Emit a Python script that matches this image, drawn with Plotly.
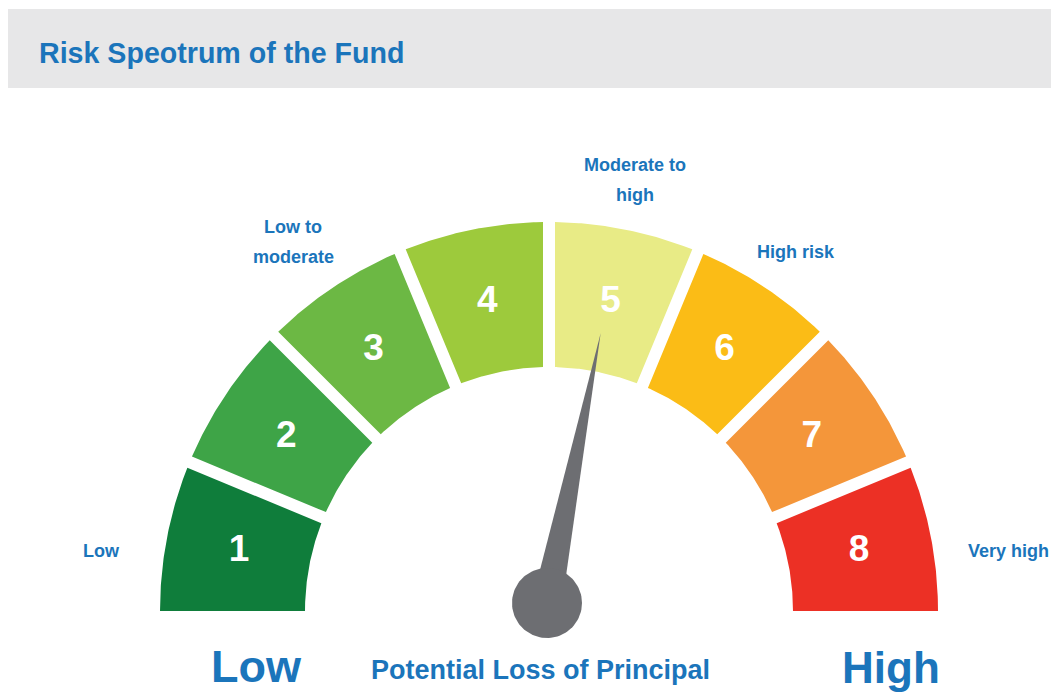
import numpy as np
import plotly.graph_objects as go

# ---------------- data ----------------
levels = [1, 2, 3, 4, 5, 6, 7, 8]
segment_colors = ["#0f7d3b", "#3ea447", "#6cb844", "#9dca3c",
                  "#e8eb86", "#fbbc16", "#f4963a", "#ec3025"]
risk_levels_named = [1, 3, 5, 6, 8]
risk_names = [["Low"], ["Low to", "moderate"], ["Moderate to", "high"],
              ["High risk"], ["Very high"]]
needle_value = 4.5          # position on the 0..8 scale (middle of level 5)
title_text = "Risk Speotrum of the Fund"
bottom_left = "Low"
bottom_mid = "Potential Loss of Principal"
bottom_right = "High"

# ---------------- geometry (pixel space of the screenshot) ----------------
W, H = 1059, 695
OFF = 8                      # default body margin of the html page
CX, CY = 549, 611
R_OUT, R_IN = 389, 244
GAP = 6.0
N = len(levels)
STEP = 180.0 / N
BLUE = "#1b75bb"
FONT = "Liberation Sans, Arial, sans-serif"


def pt(r, ang_deg, cx=CX, cy=CY):
    a = np.radians(ang_deg)
    return cx + r * np.cos(a), cy - r * np.sin(a)


fig = go.Figure()

# segments
for i, (lvl, col) in enumerate(zip(levels, segment_colors)):
    a_start = 180 - i * STEP
    a_end = 180 - (i + 1) * STEP
    do_o = np.degrees(np.arcsin(GAP / R_OUT))
    do_i = np.degrees(np.arcsin(GAP / R_IN))
    so = a_start - (do_o if i > 0 else 0)
    eo = a_end + (do_o if i < N - 1 else 0)
    si = a_start - (do_i if i > 0 else 0)
    ei = a_end + (do_i if i < N - 1 else 0)
    ang_o = np.linspace(so, eo, 60)
    ang_i = np.linspace(ei, si, 60)
    xo, yo = pt(R_OUT, ang_o)
    xi, yi = pt(R_IN, ang_i)
    xs = np.concatenate([xo, xi, xo[:1]])
    ys = np.concatenate([yo, yi, yo[:1]])
    fig.add_trace(go.Scatter(x=xs, y=ys, mode="lines", fill="toself",
                             fillcolor=col, line=dict(width=0, color=col),
                             hoverinfo="skip", showlegend=False))

# numbers inside segments
mid_angles = [180 - (i + 0.5) * STEP for i in range(N)]
nx, ny = pt(316, np.array(mid_angles))
fig.add_trace(go.Scatter(x=nx, y=ny + 2, mode="text", text=[str(l) for l in levels],
                         textfont=dict(family=FONT, size=37, color="white", weight="bold"),
                         hoverinfo="skip", showlegend=False))

# needle
PX, PY = 547, 603
needle_ang = 180 - needle_value * STEP
tip = pt(275, needle_ang, PX, PY)
b1 = pt(15, needle_ang + 90, PX, PY)
b2 = pt(15, needle_ang - 90, PX, PY)
fig.add_trace(go.Scatter(x=[b1[0], tip[0], b2[0], b1[0]], y=[b1[1], tip[1], b2[1], b1[1]],
                         mode="lines", fill="toself", fillcolor="#6d6e72",
                         line=dict(width=0, color="#6d6e72"), hoverinfo="skip", showlegend=False))
circ = np.linspace(0, 360, 100)
cx_, cy_ = pt(35, circ, PX, PY)
fig.add_trace(go.Scatter(x=cx_, y=cy_, mode="lines", fill="toself", fillcolor="#6d6e72",
                         line=dict(width=0, color="#6d6e72"), hoverinfo="skip", showlegend=False))

# header band
shapes = [dict(type="rect", xref="x", yref="y", x0=7, x1=W, y0=9, y1=88,
               fillcolor="#e7e7e8", line=dict(width=0), layer="below")]

annotations = [dict(x=37, y=53, xref="x", yref="y", text=title_text, showarrow=False,
                    xanchor="left", yanchor="middle",
                    font=dict(family=FONT, size=28.6, color=BLUE, weight="bold"))]

# risk category labels (pixel centres of each line)
label_pos = {
    1: [(101, 551)],
    3: [(293, 227), (293, 257)],
    5: [(635, 165), (635, 195)],
    6: [(796, 252)],
    8: [(1008, 551)],
}
for lvl, lines in zip(risk_levels_named, risk_names):
    for (lx, ly), txt in zip(label_pos[lvl], lines):
        annotations.append(dict(x=lx, y=ly, xref="x", yref="y", text=txt, showarrow=False,
                                xanchor="center", yanchor="middle",
                                font=dict(family=FONT, size=18, color=BLUE, weight="bold")))

annotations += [
    dict(x=256, y=694, xref="x", yref="y", text=bottom_left, showarrow=False,
         xanchor="center", yanchor="bottom",
         font=dict(family=FONT, size=45, color=BLUE, weight="bold")),
    dict(x=540, y=670, xref="x", yref="y", text=bottom_mid, showarrow=False,
         xanchor="center", yanchor="middle",
         font=dict(family=FONT, size=27, color=BLUE, weight="bold")),
    dict(x=891, y=694, xref="x", yref="y", text=bottom_right, showarrow=False,
         xanchor="center", yanchor="bottom",
         font=dict(family=FONT, size=44, color=BLUE, weight="bold")),
]

fig.update_layout(
    width=W - OFF, height=H - OFF, margin=dict(l=0, r=0, t=0, b=0),
    paper_bgcolor="white", plot_bgcolor="white",
    xaxis=dict(range=[OFF, W], visible=False, fixedrange=True),
    yaxis=dict(range=[H, OFF], visible=False, fixedrange=True),
    shapes=shapes, annotations=annotations, showlegend=False,
)

fig.write_html("out.html")
